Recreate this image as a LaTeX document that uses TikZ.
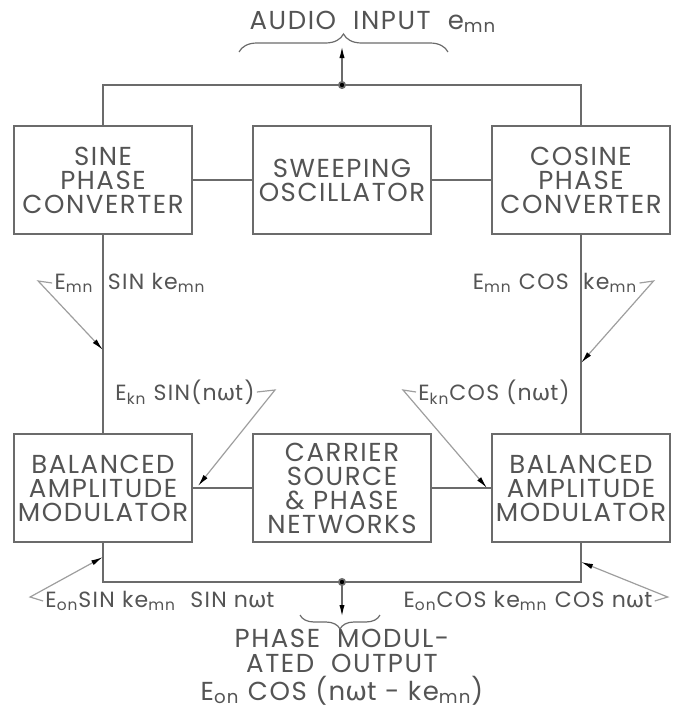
\documentclass[tikz,border=0pt]{standalone}
\usepackage{fontspec}
\setmainfont{Poppins}[LetterSpace=6]
\newfontfamily\grk{DejaVu Sans}
\usetikzlibrary{arrows.meta,decorations.pathreplacing}
\definecolor{ink}{gray}{0.33}
\definecolor{wire}{gray}{0.42}
\definecolor{lead}{gray}{0.62}
\newcommand{\subs}[1]{\textsubscript{#1}}
\newcommand{\om}{{\grk ω}}
\begin{document}
\begin{tikzpicture}[
  x=0.5pt, y=-0.5pt,
  font=\fontsize{13}{12}\selectfont,
  wire/.style={line width=0.8pt, draw=wire},
  blk/.style={draw=wire, line width=0.9pt, minimum width=89pt, minimum height=54pt,
              align=center, inner sep=0pt, text=ink},
  lbl/.style={font=\fontsize{11}{11}\selectfont, inner sep=1pt, text=ink},
  lead/.style={draw=lead, line width=0.6pt, -{Latex[length=6pt,width=2.6pt,color=black]}},
  tip/.style={-{Latex[length=6pt,width=2.6pt,color=black]}},
  capt/.style={font=\fontsize{13}{12.5}\selectfont, text=ink, align=center}
]
\useasboundingbox (0,0) rectangle (676,712);

% ===================== blocks =====================
\node[blk] (sine)    at (103,180) {SINE\\PHASE\\CONVERTER};
\node[blk] (sweep)   at (342,180) {SWEEPING\\OSCILLATOR};
\node[blk] (cosine)  at (581,180) {COSINE\\PHASE\\CONVERTER};

\node[blk] (bamL)    at (103,488) {BALANCED\\AMPLITUDE\\MODULATOR};
\node[blk] (carrier) at (342,488) {CARRIER\\SOURCE\\\& PHASE\\NETWORKS};
\node[blk] (bamR)    at (581,488) {BALANCED\\AMPLITUDE\\MODULATOR};

% ===================== wiring =====================
\coordinate (jt)  at (342,85);    % audio junction
\coordinate (aud) at (342,46);
\coordinate (jb)  at (342,582);   % output junction
\coordinate (out) at (342,617);

\draw[wire] (sine.north) |- (jt) -| (cosine.north);
\draw[wire] (sine) -- (sweep);
\draw[wire] (sweep) -- (cosine);
\draw[wire] (sine.south) -- (bamL.north);
\draw[wire] (cosine.south) -- (bamR.north);
\draw[wire] (bamL) -- (carrier);
\draw[wire] (carrier) -- (bamR);
\draw[wire] (bamL.south) |- (jb) -| (bamR.south);

\draw[wire, tip] (jt) -- (aud);
\draw[wire, tip] (jb) -- (out);
\fill[wire] (jt) circle (1.6pt);
\fill[wire] (jb) circle (1.6pt);

% braces
\draw[wire, line width=0.6pt, decorate, decoration={brace, amplitude=9pt}] (239,52) -- (448,52);
\draw[wire, line width=0.6pt, decorate, decoration={brace, amplitude=7pt}] (380,615) -- (300,615);

\node[capt] (audio) at (373,22) {AUDIO\ \ INPUT\ \ e\subs{mn}};
\node[capt] (pmo)   at (342,667) {PHASE\ \ MODUL-\\ATED\ \ OUTPUT\\[1.5pt]E\subs{on} COS (n\om t - ke\subs{mn})};

% ===================== signal notes =====================
\coordinate (tA) at (103,350);
\coordinate (tB) at (581,363);
\coordinate (tC) at (198,486);
\coordinate (tD) at (487,488);
\coordinate (tE) at (103,557);
\coordinate (tF) at (581,562);

\node[lbl] (lblA) at (130,283) {E\subs{mn}\ \ SIN ke\subs{mn}};
\node[lbl] (lblB) at (555,283) {E\subs{mn} COS\ \ ke\subs{mn}};
\node[lbl] (lblC) at (185,392) {E\subs{kn} SIN(n\om t)};
\node[lbl] (lblD) at (494,392) {E\subs{kn}COS (n\om t)};
\node[lbl] (lblE) at (160,601) {E\subs{on}SIN ke\subs{mn}\ \ SIN n\om t};
\node[lbl] (lblF) at (528,601) {E\subs{on}COS ke\subs{mn} COS n\om t};

\draw[lead] (lblA.west) -- ++(-14,-2) -- (tA);
\draw[lead] (lblB.east) -- ++(14,-2) -- (tB);
\draw[lead] (lblC.east) -- ++(18,-2) -- (tC);
\draw[lead] (lblD.west) -- ++(-13,-2) -- (tD);
\draw[lead] (lblE.west) -- ++(-13,-4) -- (tE);
\draw[lead] (lblF.east) -- ++(13,-4) -- (tF);

\end{tikzpicture}
\end{document}
